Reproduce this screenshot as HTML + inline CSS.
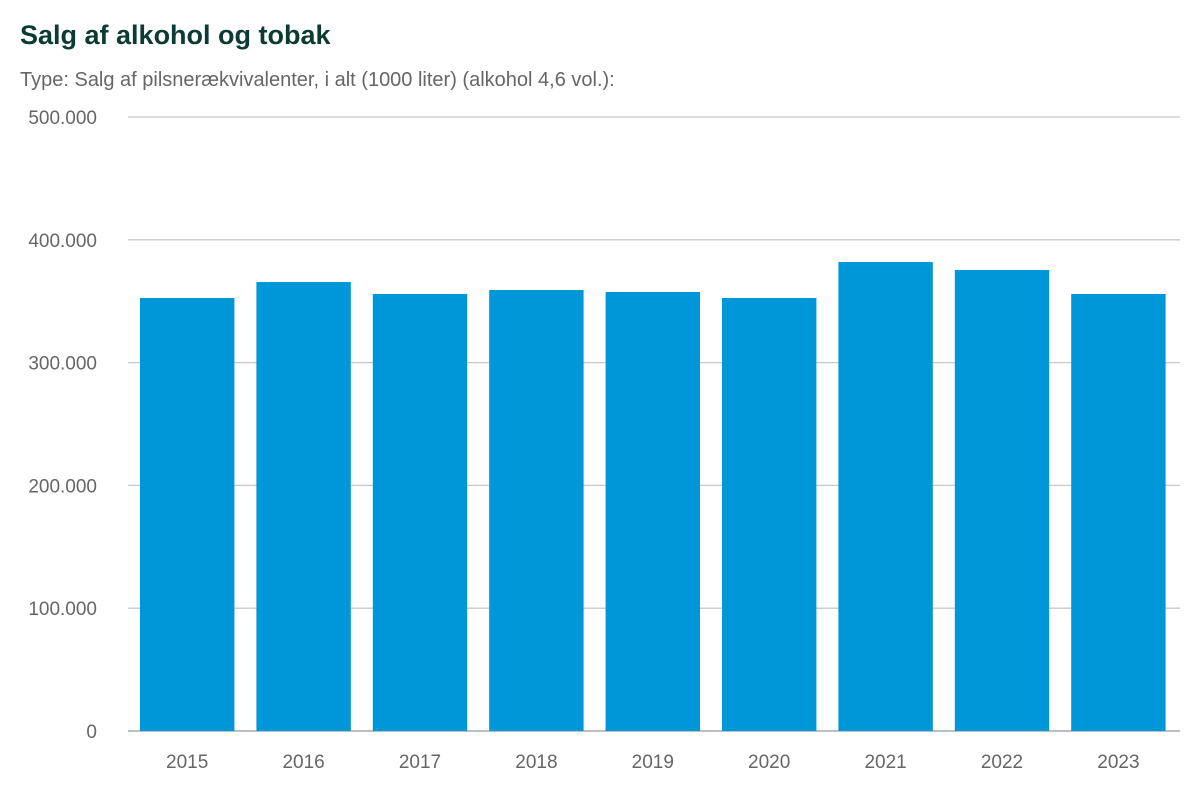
<!DOCTYPE html>
<html><head><meta charset="utf-8">
<style>
body{margin:0;background:#fff;font-family:"Liberation Sans",Arial,sans-serif;}
</style></head>
<body>
<svg width="1199" height="800" xmlns="http://www.w3.org/2000/svg">
<text x="20" y="44" font-size="27" font-weight="bold" fill="#0b3b32">Salg af alkohol og tobak</text>
<text x="20" y="86" font-size="20" fill="#666">Type: Salg af pilsnerækvivalenter, i alt (1000 liter) (alkohol 4,6 vol.):</text>
<g id="grid"></g><g id="bars"></g><g id="xl"></g>
</svg>
<script>
const categories=["2015","2016","2017","2018","2019","2020","2021","2022","2023"];
const values=[352600,365600,355900,359100,357500,352600,381900,375400,355900];
const yTicks=[0,100000,200000,300000,400000,500000];
const yTickLabels=["0","100.000","200.000","300.000","400.000","500.000"];
const ns="http://www.w3.org/2000/svg";
const y0=731,y1=117,left=128,right=1180,band=116.4,pad=11;
const y=v=>y0-(v/500000)*(y0-y1);
const x=i=>left+i*band;
function mk(t,a,p){const e=document.createElementNS(ns,t);for(const k in a)e.setAttribute(k,a[k]);document.getElementById(p).appendChild(e);return e;}
yTicks.forEach((t,i)=>{
 const l=mk('line',{x1:left,x2:right,y1:y(t),y2:y(t),stroke:i==0?'#999':'#c8c8c8','stroke-width':1.3},'grid');
 
 
 const tx=mk('text',{x:97,y:y(t)+7,'text-anchor':'end','font-size':19,fill:'#666'},'grid');
 tx.textContent=yTickLabels[i];
 
 
});
categories.forEach((c,i)=>{
 const r=mk('rect',{x:x(i)+pad+1,y:y(values[i]),width:band-2*pad,height:y0-y(values[i]),fill:'#0097d8'},'bars');
 
 
 const t=mk('text',{x:x(i)+pad+1+(band-2*pad)/2,y:768,'text-anchor':'middle','font-size':19,fill:'#666'},'xl');
 t.textContent=c;
 
 
});
</script>
</body></html>
